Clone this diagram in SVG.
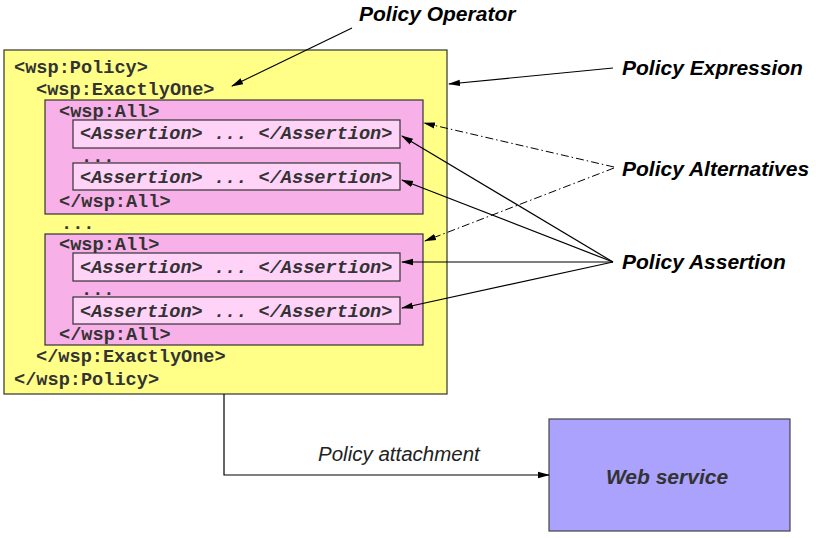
<svg xmlns="http://www.w3.org/2000/svg" width="816" height="538" viewBox="0 0 816 538">
<defs>
<marker id="ah" markerWidth="12" markerHeight="8" refX="11" refY="4" orient="auto" markerUnits="userSpaceOnUse">
<path d="M0,0.8 L12,4 L0,7.2 Z" fill="#000"/>
</marker>
<style>
.code{font-family:"Liberation Mono","Courier New",monospace;font-weight:bold;font-size:18.6px;fill:#333}
.asr{font-style:italic}
.lbl{font-family:"Liberation Sans",Arial,sans-serif;font-weight:bold;font-style:italic;font-size:21px;fill:#000}
.yel{fill:#FFFF88;stroke:#333;stroke-width:1.2}
.pink{fill:#F7B0E8;stroke:#333;stroke-width:1.2}
.inner{fill:#FFD2F8;stroke:#333;stroke-width:1.2}
.ln{fill:none;stroke:#000;stroke-width:1.2}
.dd{fill:none;stroke:#000;stroke-width:1;stroke-dasharray:8,3,1.5,3}
</style>
</defs>
<rect width="816" height="538" fill="#fff"/>

<g id="policy-expression">
<rect class="yel" x="4" y="50" width="443" height="344"/>
<text class="code" x="14" y="73">&lt;wsp:Policy&gt;</text>
<text class="code" x="36" y="95">&lt;wsp:ExactlyOne&gt;</text>
<text class="code" x="61" y="229">...</text>
<text class="code" x="36" y="362">&lt;/wsp:ExactlyOne&gt;</text>
<text class="code" x="14" y="385">&lt;/wsp:Policy&gt;</text>
</g>

<g id="alternative-1">
<rect class="pink" x="45" y="100" width="378" height="114"/>
<text class="code" x="59" y="117">&lt;wsp:All&gt;</text>
<text class="code" x="81" y="162">...</text>
<text class="code" x="59" y="207">&lt;/wsp:All&gt;</text>
</g>
<g id="assertion-1">
<rect class="inner" x="73" y="120" width="327" height="28"/>
<text class="code asr" x="80" y="139">&lt;Assertion&gt; ... &lt;/Assertion&gt;</text>
</g>
<g id="assertion-2">
<rect class="inner" x="73" y="163" width="327" height="27"/>
<text class="code asr" x="80" y="183">&lt;Assertion&gt; ... &lt;/Assertion&gt;</text>
</g>

<g id="alternative-2">
<rect class="pink" x="45" y="234" width="378" height="111"/>
<text class="code" x="59" y="250">&lt;wsp:All&gt;</text>
<text class="code" x="81" y="295">...</text>
<text class="code" x="59" y="340">&lt;/wsp:All&gt;</text>
</g>
<g id="assertion-3">
<rect class="inner" x="73" y="253" width="327" height="28"/>
<text class="code asr" x="80" y="273">&lt;Assertion&gt; ... &lt;/Assertion&gt;</text>
</g>
<g id="assertion-4">
<rect class="inner" x="73" y="297" width="327" height="27"/>
<text class="code asr" x="80" y="317">&lt;Assertion&gt; ... &lt;/Assertion&gt;</text>
</g>

<g id="web-service">
<rect x="549" y="419" width="241" height="112" fill="#AAA2FC" stroke="#444" stroke-width="1.2"/>
<text class="lbl" x="667" y="484" text-anchor="middle" style="fill:#333">Web service</text>
</g>

<g id="label-operator"><text class="lbl" x="359" y="21">Policy Operator</text></g>
<g id="label-expression"><text class="lbl" x="622" y="75">Policy Expression</text></g>
<g id="label-alternatives"><text class="lbl" x="622" y="176">Policy Alternatives</text></g>
<g id="label-assertion"><text class="lbl" x="622" y="269">Policy Assertion</text></g>

<g id="connectors">
<line class="ln" x1="352" y1="28" x2="232" y2="86" marker-end="url(#ah)"/>
<line class="ln" x1="613" y1="68" x2="449" y2="84" marker-end="url(#ah)"/>
<line class="dd" x1="614" y1="167" x2="424" y2="123" marker-end="url(#ah)"/>
<line class="dd" x1="614" y1="168" x2="425" y2="241" marker-end="url(#ah)"/>
<line class="ln" x1="613" y1="262" x2="402" y2="136" marker-end="url(#ah)"/>
<line class="ln" x1="613" y1="262" x2="402" y2="180" marker-end="url(#ah)"/>
<line class="ln" x1="613" y1="262" x2="402" y2="262" marker-end="url(#ah)"/>
<line class="ln" x1="613" y1="262" x2="402" y2="308" marker-end="url(#ah)"/>
<polyline class="ln" points="224,394 224,475 549,475" marker-end="url(#ah)"/>
<text x="318" y="461" font-family="Liberation Sans, Arial, sans-serif" font-style="italic" font-size="20.5" fill="#222">Policy attachment</text>
</g>
</svg>
